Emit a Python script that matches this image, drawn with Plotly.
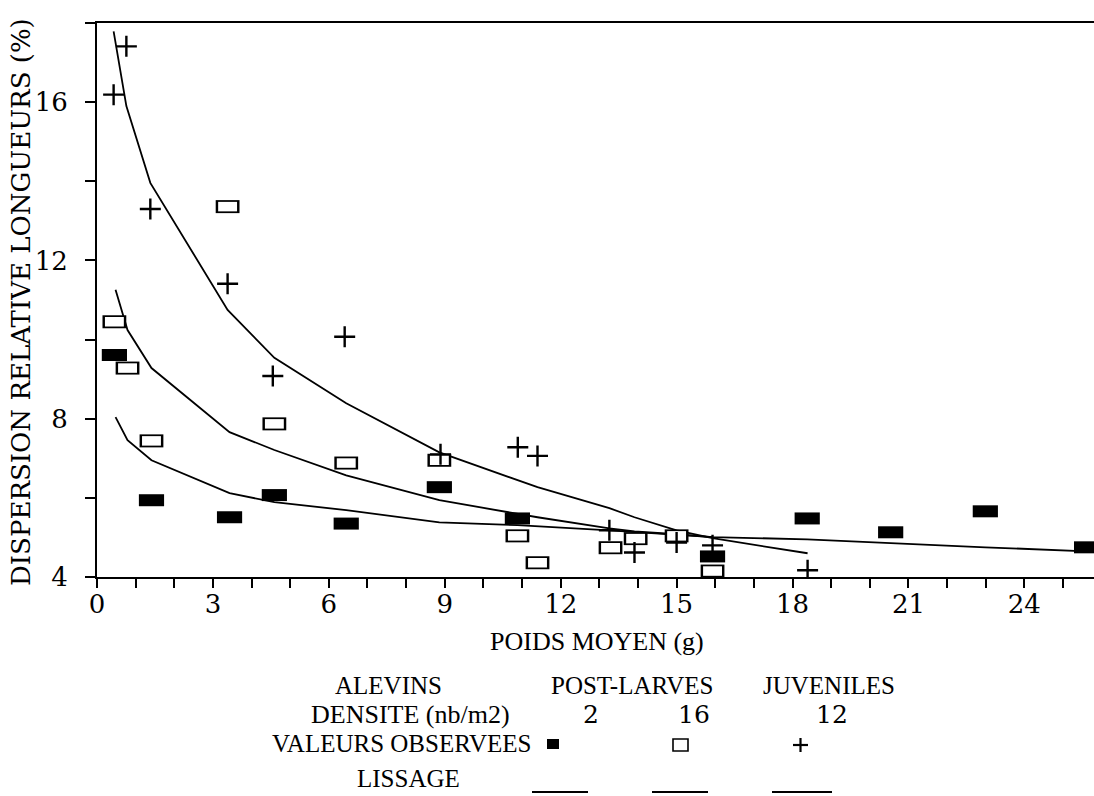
import plotly.graph_objects as go

# Observed relative length dispersion (%) against mean weight (g)
x_alevins = [0.45, 1.41, 3.43, 4.59, 6.45, 8.86, 10.88, 15.93, 18.38, 20.54, 22.99, 25.61]
y_alevins = [9.61, 5.94, 5.51, 6.07, 5.35, 6.27, 5.48, 4.52, 5.48, 5.13, 5.66, 4.75]

x_postlarves = [0.45, 0.79, 1.41, 3.38, 4.59, 6.45, 8.86, 10.88, 11.40, 13.29, 13.94, 15.00, 15.93]
y_postlarves = [10.45, 9.28, 7.44, 13.36, 7.87, 6.88, 6.95, 5.04, 4.36, 4.74, 4.97, 5.04, 4.15]

x_juveniles = [0.43, 0.76, 1.38, 3.38, 4.55, 6.41, 8.89, 10.89, 11.40, 13.26, 13.91, 15.00, 15.93, 18.39]
y_juveniles = [16.19, 17.41, 13.30, 11.41, 9.08, 10.07, 7.10, 7.28, 7.06, 5.18, 4.62, 4.87, 4.80, 4.17]

# Smoothed curves (lissage)
xs_alevins = [0.48, 0.79, 1.41, 3.43, 4.59, 6.45, 8.86, 10.88, 13.26, 15.93, 18.38, 20.54, 22.99, 25.61]
ys_alevins = [8.04, 7.46, 6.95, 6.12, 5.89, 5.69, 5.38, 5.31, 5.18, 5.01, 4.95, 4.85, 4.75, 4.65]

xs_postlarves = [0.48, 0.79, 1.41, 3.43, 4.59, 6.45, 8.86, 10.88, 11.40, 13.26, 13.91, 15.00, 15.93]
ys_postlarves = [11.26, 10.24, 9.28, 7.66, 7.21, 6.57, 5.94, 5.61, 5.51, 5.23, 5.15, 5.08, 5.01]

xs_juveniles = [0.43, 0.76, 1.38, 3.38, 4.59, 6.45, 8.86, 10.88, 11.40, 13.26, 13.91, 15.00, 15.93, 18.39]
ys_juveniles = [17.79, 15.90, 13.96, 10.75, 9.54, 8.39, 7.15, 6.45, 6.27, 5.74, 5.51, 5.18, 4.98, 4.60]

# Legend table
groups = ["ALEVINS", "POST-LARVES", "JUVENILES"]
densities = ["2", "16", "12"]

x_tick_values = list(range(0, 26))
x_tick_labels = [str(v) if v % 3 == 0 else "" for v in x_tick_values]
y_tick_values = [4, 6, 8, 10, 12, 14, 16]
y_tick_labels = [str(v) if v % 4 == 0 else "" for v in y_tick_values]

W, H = 1094, 796
L, R, T, B = 97, 0, 23, 219
PW, PH = W - L - R, H - T - B

TEXT_FONT = "Liberation Serif"
NUM_FONT = "DejaVu Serif"


def px(xp):
    return (xp - L) / PW


def py(yp):
    return (H - B - yp) / PH


fig = go.Figure()

line_style = dict(color="black", width=1.8)
for xs, ys in [(xs_alevins, ys_alevins), (xs_postlarves, ys_postlarves), (xs_juveniles, ys_juveniles)]:
    fig.add_trace(go.Scatter(x=xs, y=ys, mode="lines", line=line_style,
                             hoverinfo="skip", showlegend=False))

# open rectangles: black bar with a white bar on top
fig.add_trace(go.Scatter(x=x_postlarves, y=y_postlarves, mode="markers", showlegend=False,
                         marker=dict(symbol="line-ew", size=17, color="black",
                                     line=dict(color="black", width=13))))
fig.add_trace(go.Scatter(x=x_postlarves, y=y_postlarves, mode="markers", showlegend=False,
                         hoverinfo="skip",
                         marker=dict(symbol="line-ew", size=13.5, color="white",
                                     line=dict(color="white", width=9.5))))
# filled rectangles
fig.add_trace(go.Scatter(x=x_alevins, y=y_alevins, mode="markers", showlegend=False,
                         marker=dict(symbol="line-ew", size=18, color="black",
                                     line=dict(color="black", width=12))))
# plus signs
fig.add_trace(go.Scatter(x=x_juveniles, y=y_juveniles, mode="markers", showlegend=False,
                         marker=dict(symbol="cross-thin", size=15, color="black",
                                     line=dict(color="black", width=2.4))))

annotations = []
# axis titles
annotations.append(dict(x=px(21), y=py(302), xref="paper", yref="paper", showarrow=False,
                        text="DISPERSION RELATIVE LONGUEURS (%)", textangle=-90,
                        font=dict(family=NUM_FONT, size=26, color="black"),
                        xanchor="center", yanchor="middle"))
annotations.append(dict(x=px(597), y=py(641), xref="paper", yref="paper", showarrow=False,
                        text="POIDS MOYEN (g)", font=dict(family=TEXT_FONT, size=26, color="black"),
                        xanchor="center", yanchor="middle"))

# legend table
group_cx = [388, 632, 829]
density_cx = [591, 694, 832]
for g, cx in zip(groups, group_cx):
    annotations.append(dict(x=px(cx), y=py(685), xref="paper", yref="paper", showarrow=False,
                            text=g, font=dict(family=TEXT_FONT, size=25, color="black"),
                            xanchor="center", yanchor="middle"))
annotations.append(dict(x=px(410), y=py(714), xref="paper", yref="paper", showarrow=False,
                        text="DENSITE (nb/m2)", font=dict(family=TEXT_FONT, size=26, color="black"),
                        xanchor="center", yanchor="middle"))
for d, cx in zip(densities, density_cx):
    annotations.append(dict(x=px(cx), y=py(714), xref="paper", yref="paper", showarrow=False,
                            text=d, font=dict(family=NUM_FONT, size=25, color="black"),
                            xanchor="center", yanchor="middle"))
annotations.append(dict(x=px(401), y=py(743), xref="paper", yref="paper", showarrow=False,
                        text="VALEURS OBSERVEES", font=dict(family=TEXT_FONT, size=25, color="black"),
                        xanchor="center", yanchor="middle"))
annotations.append(dict(x=px(408), y=py(778), xref="paper", yref="paper", showarrow=False,
                        text="LISSAGE", font=dict(family=TEXT_FONT, size=25, color="black"),
                        xanchor="center", yanchor="middle"))

shapes = []
# extensions of the bottom and top frame lines to the left of the y axis
for yp in (0, 1):
    shapes.append(dict(type="line", xref="paper", yref="paper", x0=px(85), x1=0, y0=yp, y1=yp,
                       line=dict(color="black", width=2)))
# legend keys
shapes.append(dict(type="rect", xref="paper", yref="paper", x0=px(547), x1=px(559),
                   y0=py(749), y1=py(739), fillcolor="black", line=dict(width=0)))
shapes.append(dict(type="rect", xref="paper", yref="paper", x0=px(673), x1=px(688),
                   y0=py(751), y1=py(739), fillcolor="white", line=dict(color="black", width=1.6)))
shapes.append(dict(type="line", xref="paper", yref="paper", x0=px(793), x1=px(808),
                   y0=py(745), y1=py(745), line=dict(color="black", width=2.2)))
shapes.append(dict(type="line", xref="paper", yref="paper", x0=px(800.5), x1=px(800.5),
                   y0=py(738), y1=py(752), line=dict(color="black", width=2.2)))
for x0, x1 in [(532, 588), (652, 708), (772, 832)]:
    shapes.append(dict(type="line", xref="paper", yref="paper", x0=px(x0), x1=px(x1),
                       y0=py(792), y1=py(792), line=dict(color="black", width=1.8)))

fig.update_layout(
    width=W, height=H,
    margin=dict(l=L, r=R, t=T, b=B, pad=0),
    paper_bgcolor="white", plot_bgcolor="white",
    showlegend=False,
    annotations=annotations,
    shapes=shapes,
    xaxis=dict(range=[0, PW / 38.64], showgrid=False, zeroline=False,
               showline=True, mirror=True, linecolor="black", linewidth=2,
               ticks="outside", ticklen=9, tickwidth=2, tickcolor="black",
               tickmode="array", tickvals=x_tick_values, ticktext=x_tick_labels,
               tickfont=dict(family=NUM_FONT, size=26, color="black"),
               ticklabelstandoff=-6),
    yaxis=dict(range=[4, 4 + PH / 39.57], showgrid=False, zeroline=False,
               showline=True, mirror=False, linecolor="black", linewidth=2,
               ticks="outside", ticklen=10, tickwidth=2, tickcolor="black",
               tickmode="array", tickvals=y_tick_values, ticktext=y_tick_labels,
               tickfont=dict(family=NUM_FONT, size=26, color="black"),
               ticklabelstandoff=12),
)

fig.write_html("out.html")
